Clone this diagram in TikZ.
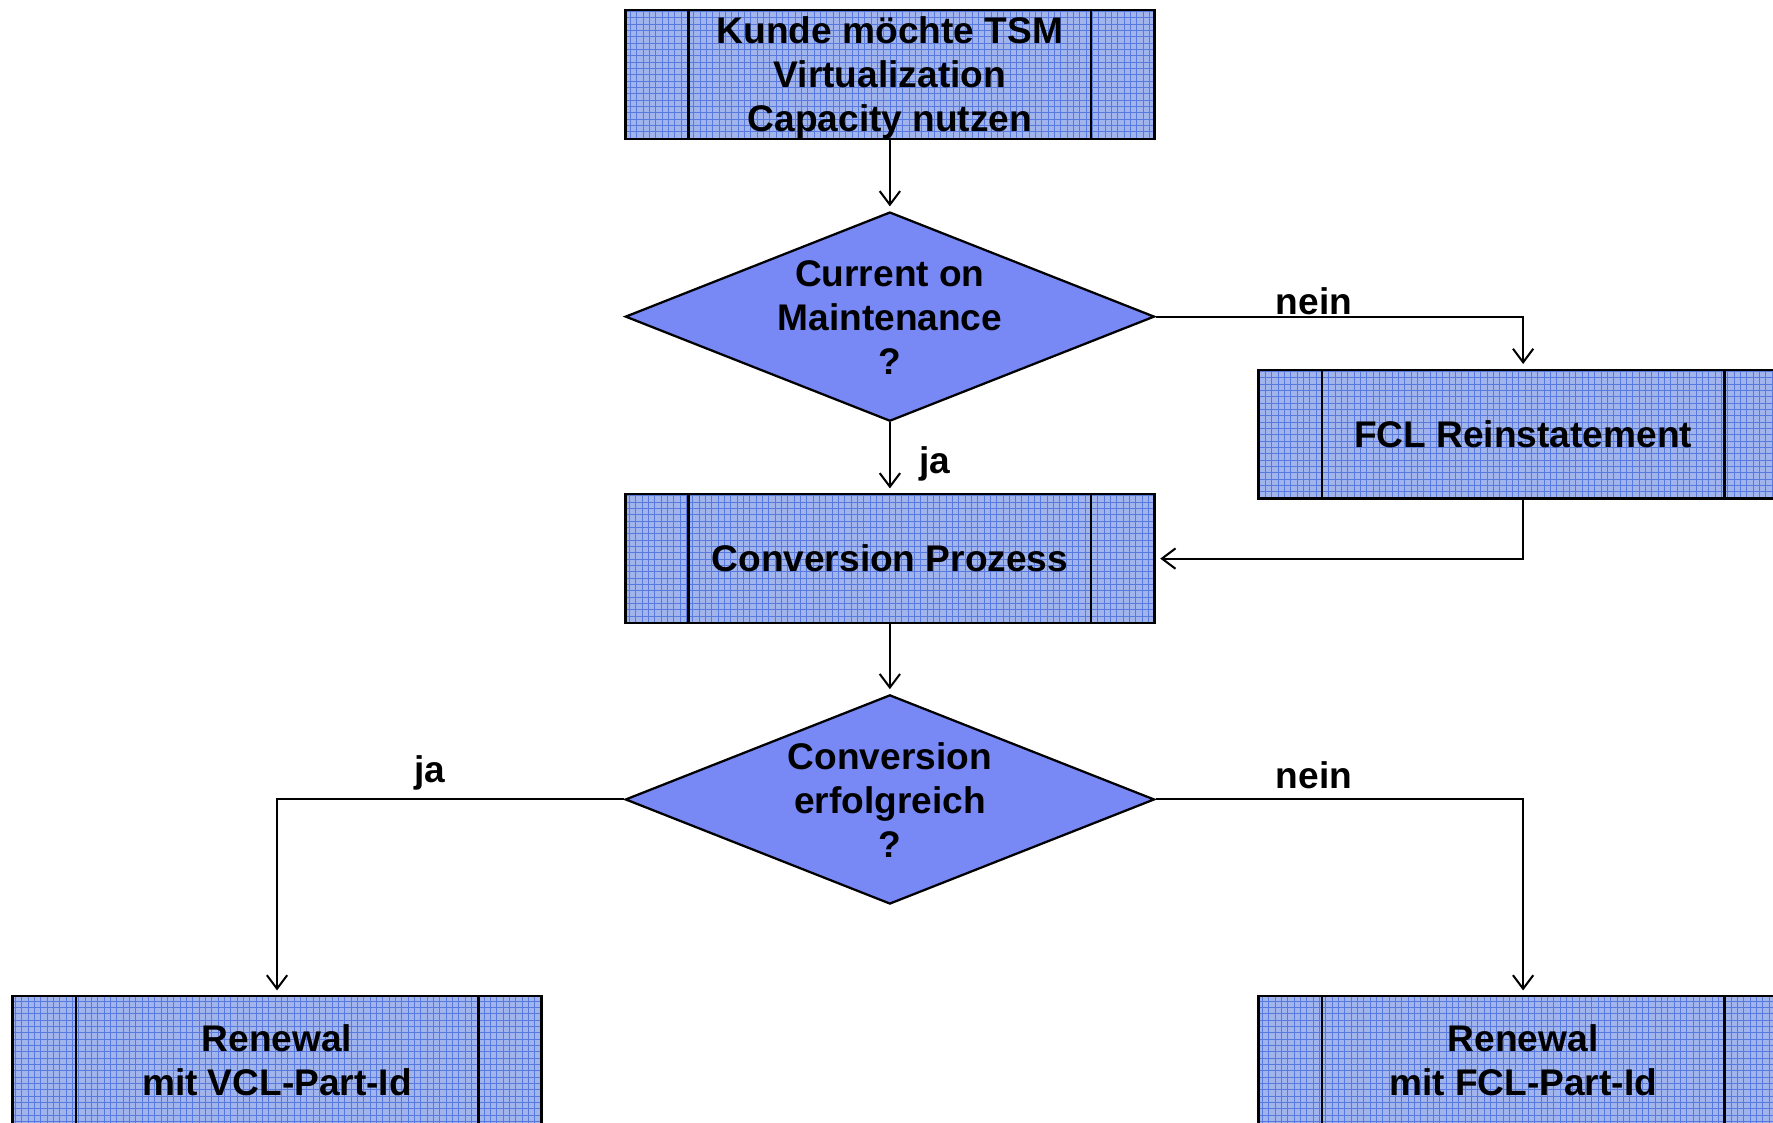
\documentclass[tikz,border=0pt]{standalone}
\usepackage{fontspec}
\setmainfont{Liberation Sans}
\usetikzlibrary{shapes.geometric,arrows.meta,calc}
\definecolor{boxfill}{RGB}{162,180,236}
\definecolor{gridcol}{RGB}{88,122,222}
\definecolor{diafill}{RGB}{120,137,246}
\tikzset{
  x=0.5pt, y=-0.5pt,
  txt/.style={font=\fontsize{16.4}{19.5}\selectfont\bfseries, align=center, inner sep=0pt},
  procbox/.style={draw=black, line width=1.1pt, fill=boxfill, minimum width=234pt, minimum height=57pt,
    inner sep=0pt, txt,
    path picture={
      \draw[gridcol, line width=0.35pt, step=2.8pt] (path picture bounding box.south west) grid (path picture bounding box.north east);
      \draw[black, line width=1.1pt] ([xshift=28pt]path picture bounding box.north west) -- ([xshift=28pt]path picture bounding box.south west);
      \draw[black, line width=1.1pt] ([xshift=-28pt]path picture bounding box.north east) -- ([xshift=-28pt]path picture bounding box.south east);
    }},
  decision/.style={diamond, draw=black, line width=1pt, fill=diafill, minimum width=234pt, minimum height=92.5pt, aspect=2.53, inner sep=0pt},
  conn/.style={draw=black, line width=0.9pt, -{Straight Barb[length=6pt,width=9pt,line width=0.9pt]}, shorten >=2pt},
  lbl/.style={txt, anchor=base}
}
\begin{document}
\begin{tikzpicture}
\clip (0,0) rectangle (1568,993);
\fill[white] (0,0) rectangle (1568,993);

\node[procbox] (start) at (787,66) {};
\node[txt] (startt) at (787,69) {Kunde möchte TSM\\Virtualization\\Capacity nutzen};
\node[decision] (d1) at (787,280) {};
\node[txt] (d1t) at (787,280.5) {Current on\\Maintenance\\?};
\node[procbox] (fcl) at (1347,384) {FCL Reinstatement};
\node[procbox] (conv) at (787,494) {Conversion Prozess};
\node[decision] (d2) at (787,707) {};
\node[txt] (d2t) at (787,707.5) {Conversion\\erfolgreich\\?};
\node[procbox] (rvcl) at (245,938) {Renewal\\mit VCL-Part-Id};
\node[procbox] (rfcl) at (1347,938) {Renewal\\mit FCL-Part-Id};

\draw[conn] (start.south) -- (d1.north);
\draw[conn] (d1.east) -| (fcl.north);
\draw[conn] (d1.south) -- (conv.north);
\draw[conn] (fcl.south) |- (conv.east);
\draw[conn] (conv.south) -- (d2.north);
\draw[conn] (d2.west) -| (rvcl.north);
\draw[conn] (d2.east) -| (rfcl.north);

\node[lbl] (l1) at (1162,278) {nein};
\node[lbl] (l2) at (827,419) {ja};
\node[lbl] (l3) at (380,692) {ja};
\node[lbl] (l4) at (1162,697) {nein};
\end{tikzpicture}
\end{document}
